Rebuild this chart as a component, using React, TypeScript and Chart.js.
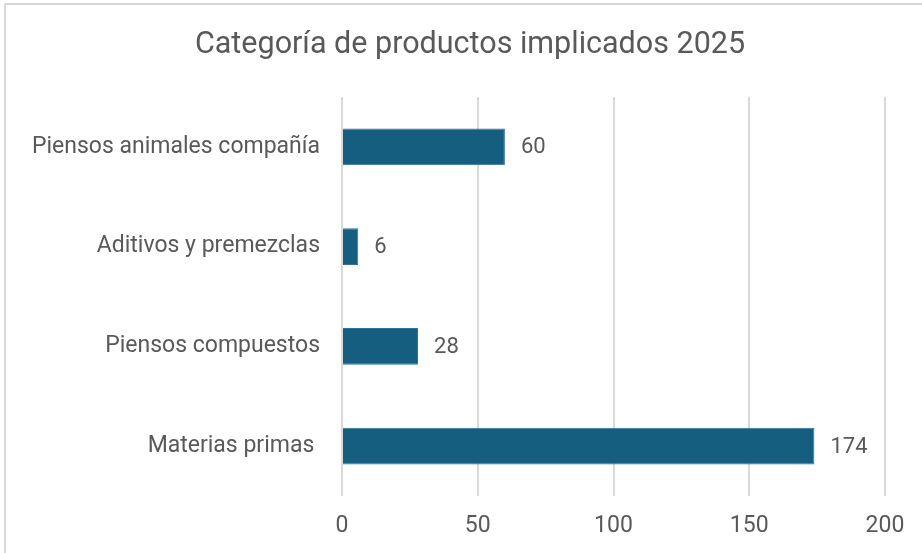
import React, { useEffect, useRef } from "react";
import { Chart, registerables } from "chart.js";

Chart.register(...registerables);

const title = "Categoría de productos implicados 2025";
const categories = [
  "Piensos animales compañía",
  "Aditivos y premezclas",
  "Piensos compuestos",
  "Materias primas ",
];
const values = [60, 6, 28, 174];
const xTicks = [0, 50, 100, 150, 200];

const FONT = "Roboto, 'Open Sans', sans-serif";
const TEXT = "#595959";

const dataLabelPlugin = {
  id: "dataLabels",
  afterDatasetsDraw(chart: any) {
    const ctx = chart.ctx;
    const meta = chart.getDatasetMeta(0);
    ctx.save();
    ctx.font = `22px ${FONT}`;
    ctx.fillStyle = TEXT;
    ctx.textAlign = "left";
    ctx.textBaseline = "middle";
    meta.data.forEach((bar: any, i: number) => {
      ctx.fillText(String(values[i]), bar.x + 16, bar.y + 1);
    });
    ctx.restore();
  },
};

const titlePlugin = {
  id: "customTitle",
  afterDraw(chart: any) {
    const ctx = chart.ctx;
    ctx.save();
    ctx.font = `30.5px ${FONT}`;
    ctx.fillStyle = TEXT;
    ctx.textAlign = "center";
    ctx.textBaseline = "middle";
    ctx.fillText(title, 470, 45);
    ctx.restore();
  },
};

export default function App() {
  const ref = useRef<HTMLCanvasElement | null>(null);
  useEffect(() => {
    document.body.style.margin = "0";
    if (!ref.current) return;
    const chart = new Chart(ref.current, {
      type: "bar",
      data: {
        labels: categories,
        datasets: [
          {
            data: values,
            backgroundColor: "#165E80",
            borderColor: "#2f7396",
            borderWidth: 1,
            barPercentage: 0.37,
            categoryPercentage: 1,
          },
        ],
      },
      options: {
        indexAxis: "y",
        animation: false,
        responsive: false,
        maintainAspectRatio: false,
        layout: { padding: { left: 0, right: 37, top: 97, bottom: 0 } },
        plugins: {
          legend: { display: false },
          tooltip: { enabled: false },
          title: { display: false },
        },
        scales: {
          x: {
            min: 0,
            max: 200,
            afterBuildTicks: (scale: any) => {
              scale.ticks = xTicks.map((v) => ({ value: v }));
            },
            afterFit: (scale: any) => {
              scale.height = 57;
            },
            grid: { color: "#d9d9d9", lineWidth: 2, drawTicks: false },
            border: { display: false },
            ticks: {
              color: TEXT,
              padding: 16,
              font: { family: FONT, size: 23 },
            },
          },
          y: {
            afterFit: (scale: any) => {
              scale.width = 342;
            },
            grid: { display: false, drawTicks: false },
            border: { display: false },
            ticks: {
              color: TEXT,
              padding: 22,
              font: { family: FONT, size: 23 },
            },
          },
        },
      },
      plugins: [dataLabelPlugin, titlePlugin],
    } as any);
    return () => chart.destroy();
  }, []);

  return (
    <div style={{ position: "fixed", left: 0, top: 0, width: 922, height: 553, overflow: "hidden", background: "#fff" }}>
      <div
        style={{
          position: "absolute",
          left: 4,
          top: 3,
          width: 940,
          height: 580,
          border: "2px solid #d9d9d9",
          boxSizing: "border-box",
        }}
      />
      <canvas ref={ref} width={922} height={553} style={{ position: "absolute", left: 0, top: 0 }} />
    </div>
  );
}
